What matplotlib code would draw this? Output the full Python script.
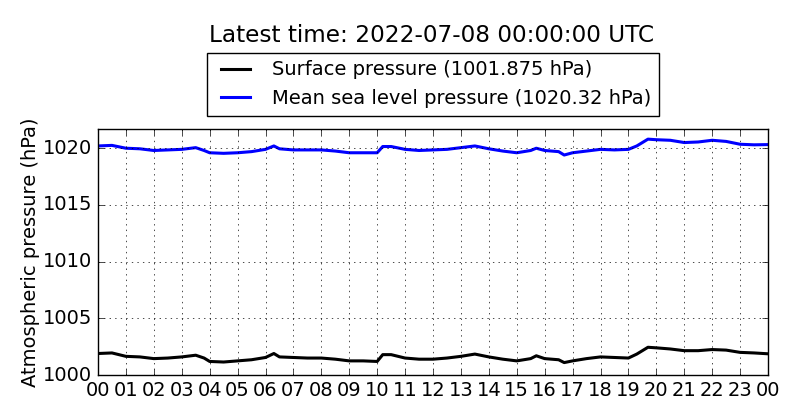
import matplotlib
matplotlib.use('Agg')
import matplotlib.pyplot as plt

plt.style.use('classic')

# horas desde 2022-07-07 00 UTC
hours = [0, 0.5, 1, 1.5, 2, 2.5, 3, 3.5, 3.8, 4, 4.5, 5, 5.5, 6, 6.3, 6.5,
         7, 7.5, 8, 8.5, 9, 9.5, 10, 10.2, 10.5, 11, 11.5, 12, 12.5, 13,
         13.5, 14, 14.5, 15, 15.5, 15.7, 16, 16.5, 16.7, 17, 17.5, 18, 18.5,
         19, 19.3, 19.7, 20, 20.5, 21, 21.5, 22, 22.5, 23, 23.5, 24]

msl = [1020.2, 1020.25, 1020.0, 1019.95, 1019.8, 1019.85, 1019.9, 1020.05,
       1019.8, 1019.6, 1019.55, 1019.6, 1019.7, 1019.9, 1020.2, 1019.95,
       1019.85, 1019.85, 1019.85, 1019.75, 1019.6, 1019.6, 1019.6, 1020.15,
       1020.15, 1019.9, 1019.8, 1019.85, 1019.9, 1020.05, 1020.2, 1019.95,
       1019.75, 1019.6, 1019.8, 1020.0, 1019.8, 1019.7, 1019.4, 1019.6,
       1019.75, 1019.9, 1019.85, 1019.9, 1020.2, 1020.8, 1020.75, 1020.7,
       1020.5, 1020.55, 1020.7, 1020.6, 1020.35, 1020.3, 1020.32]

surf = [1001.9, 1001.95, 1001.65, 1001.6, 1001.45, 1001.5, 1001.6, 1001.75,
        1001.5, 1001.2, 1001.15, 1001.25, 1001.35, 1001.55, 1001.9, 1001.6,
        1001.55, 1001.5, 1001.5, 1001.4, 1001.25, 1001.25, 1001.2, 1001.8,
        1001.8, 1001.5, 1001.4, 1001.4, 1001.5, 1001.65, 1001.85, 1001.6,
        1001.4, 1001.25, 1001.45, 1001.7, 1001.45, 1001.35, 1001.1, 1001.25,
        1001.45, 1001.6, 1001.55, 1001.5, 1001.85, 1002.45, 1002.4, 1002.3,
        1002.15, 1002.15, 1002.25, 1002.2, 1002.0, 1001.95, 1001.875]

latest_surf = '1001.875'
latest_msl = '1020.32'
tick_hours = list(range(0, 25))
tick_labels = ['%02d' % (h % 24) for h in tick_hours]
y_ticks = [1000, 1005, 1010, 1015, 1020]

fig = plt.figure(figsize=(8, 4.2), dpi=100, facecolor='white')
ax = fig.add_axes([0.1225, 0.107, 0.8375, 0.586])

ax.plot(hours, surf, color='k', lw=2.2,
        label='Surface pressure (' + latest_surf + ' hPa)')
ax.plot(hours, msl, color='b', lw=2.2,
        label='Mean sea level pressure (' + latest_msl + ' hPa)')

ax.set_xlim(0, 24)
ax.set_ylim(1000, 1021.7)
ax.set_xticks(tick_hours)
ax.set_xticklabels(tick_labels)
ax.set_yticks(y_ticks)
ax.ticklabel_format(axis='y', useOffset=False)
ax.tick_params(labelsize=14)
ax.grid(True)
ax.set_ylabel('Atmospheric pressure (hPa)', fontsize=14, labelpad=2)

leg = ax.legend(loc='lower center', bbox_to_anchor=(0.5, 1.053), fontsize=14,
                handlelength=2.1, borderaxespad=0)
leg.get_frame().set_edgecolor('k')
fig.text(0.54, 0.915, 'Latest time: 2022-07-08 00:00:00 UTC', fontsize=16.7,
         ha='center', va='center')

plt.savefig('out.png', dpi=100, facecolor='white')
plt.close('all')
